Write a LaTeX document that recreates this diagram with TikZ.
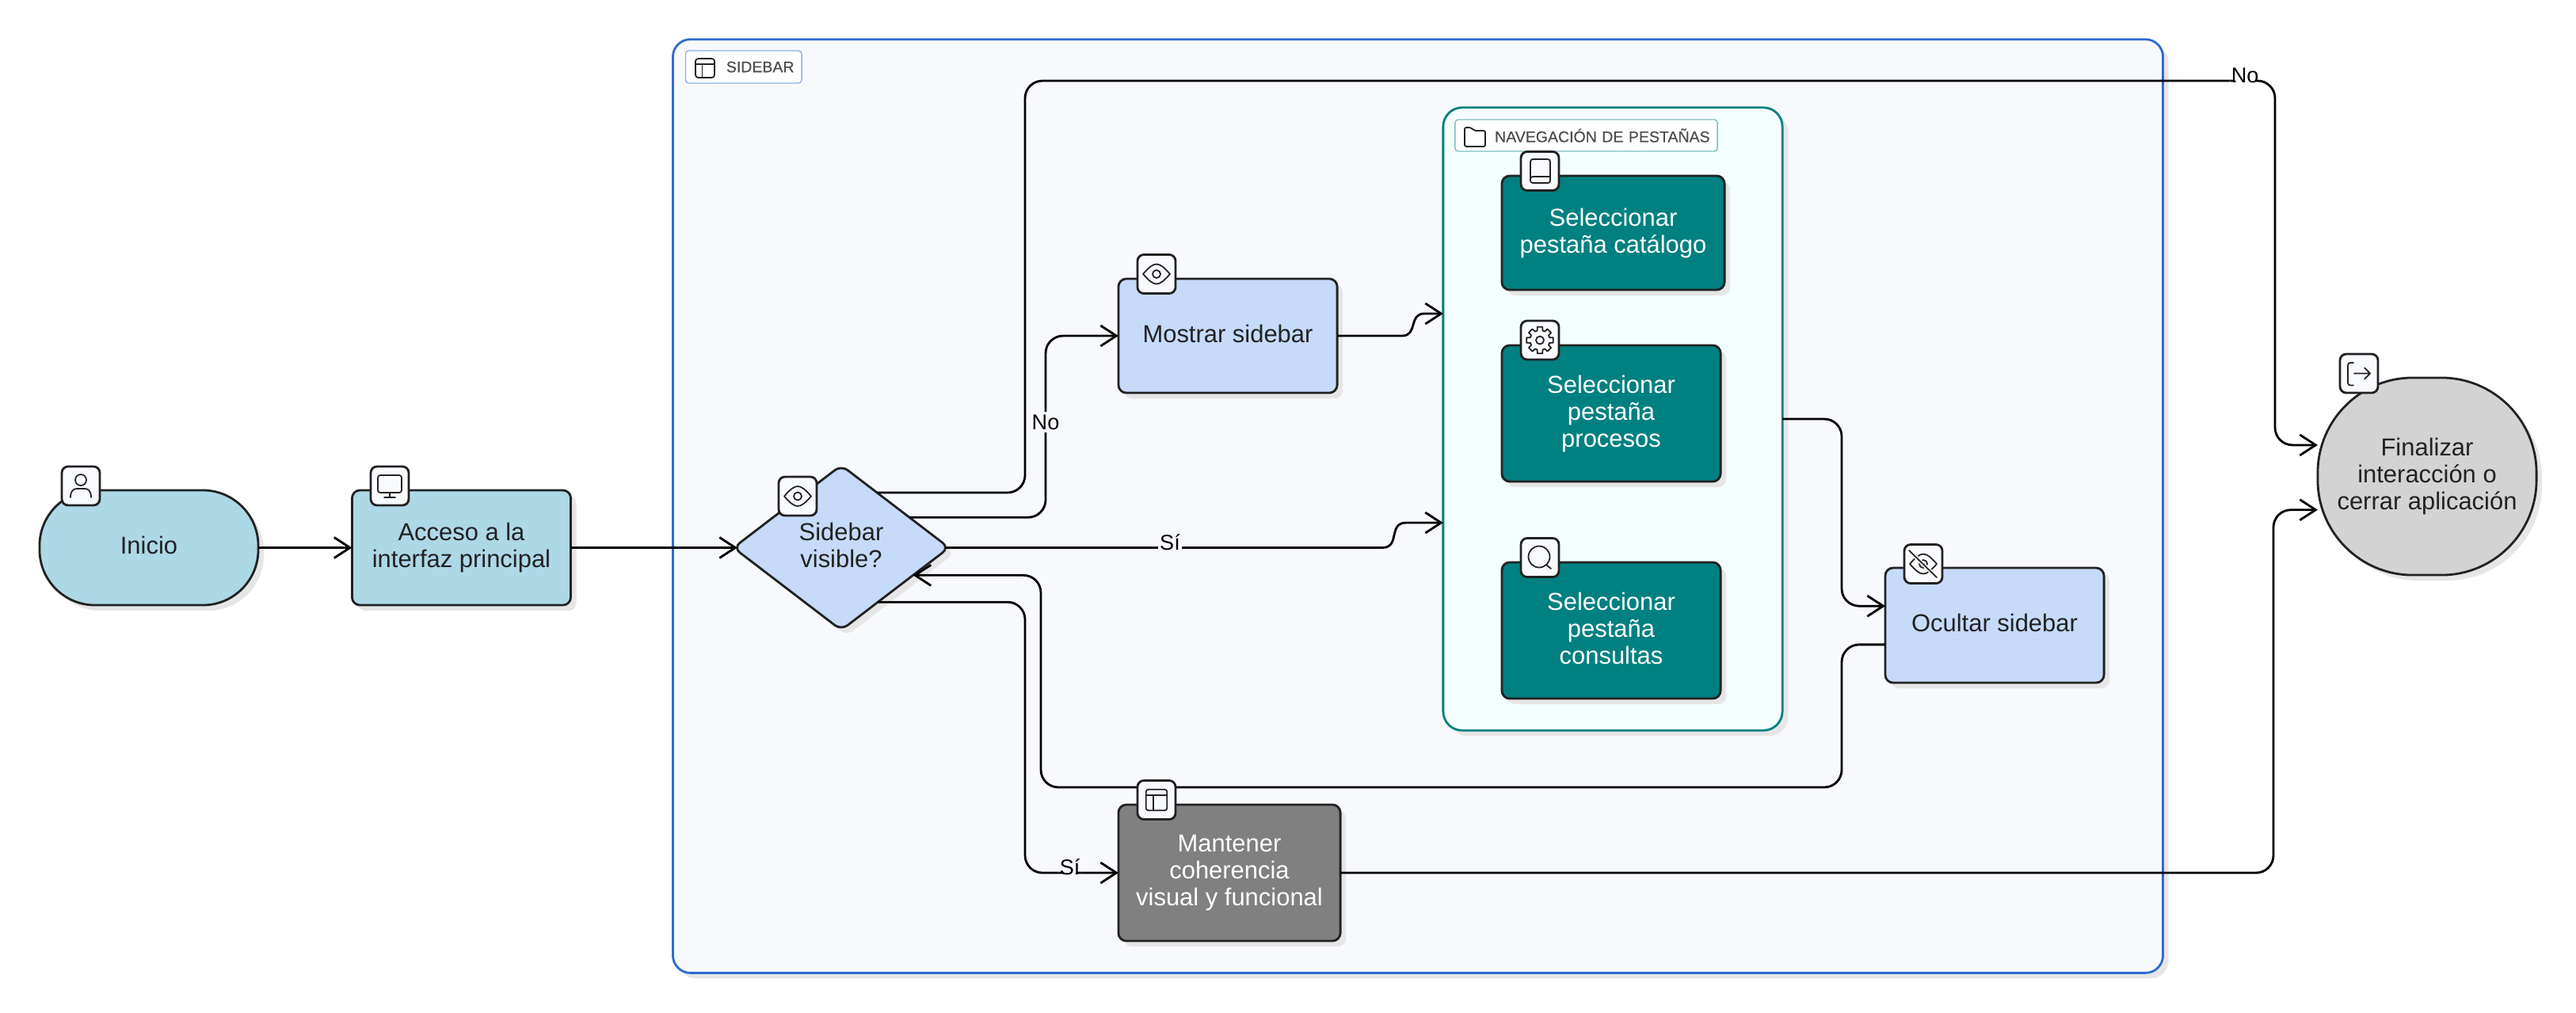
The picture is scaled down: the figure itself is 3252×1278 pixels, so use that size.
\documentclass[tikz,border=0pt]{standalone}
\usepackage{fontspec}
\setmainfont{Liberation Sans}
\newfontfamily\tagfont[FakeBold=0.25]{Liberation Sans}
\usetikzlibrary{arrows.meta,shapes.geometric,shadows}

\definecolor{inkdark}{HTML}{222222}
\definecolor{softshadow}{HTML}{E6E6E6}
\definecolor{panelblue}{HTML}{F8F9FD}
\definecolor{panelline}{HTML}{2F6BD0}
\definecolor{paneltag}{HTML}{8DB0E8}
\definecolor{tabsfill}{HTML}{F5FEFF}
\definecolor{tabstag}{HTML}{7FBFBF}
\definecolor{tealfill}{HTML}{008080}
\definecolor{stepblue}{HTML}{C6DAFA}
\definecolor{entryblue}{HTML}{ADD8E6}
\definecolor{iconfill}{HTML}{F8FAFD}
\definecolor{closegray}{HTML}{D3D3D3}

\newcommand{\lowpad}{\rule[-0.06cm]{0pt}{0.06cm}}

\tikzset{
  softdrop/.style={drop shadow={shadow xshift=0.07cm,shadow yshift=-0.07cm,fill=softshadow,opacity=1}},
  shapeline/.style={draw=inkdark,line width=0.8pt,outer sep=0pt,inner sep=0pt,align=center,
    font=\fontsize{8.8}{9.67}\selectfont},
  entrystep/.style={shapeline,softdrop,rectangle,rounded corners=0.1cm,fill=entryblue,text=inkdark,
    minimum width=2.76cm,minimum height=1.45cm},
  bluestep/.style={shapeline,softdrop,rectangle,rounded corners=0.1cm,fill=stepblue,text=inkdark,
    minimum width=2.76cm},
  tabstep/.style={shapeline,softdrop,rectangle,rounded corners=0.1cm,fill=tealfill,text=white,
    minimum width=2.76cm},
  groupbox/.style={rectangle,softdrop,fill=#1,outer sep=0pt,line width=0.8pt},
  grouptag/.style={rectangle,fill=white,rounded corners=0.04cm,line width=0.4pt,outer sep=0pt,
    inner xsep=0.095cm,inner ysep=0pt,align=right,text=black!70,font=\tagfont\fontsize{5.55}{7}\selectfont},
  iconbox/.style={rectangle,draw=inkdark,fill=iconfill,line width=0.8pt,rounded corners=0.08cm,
    minimum width=0.48cm,minimum height=0.49cm,inner sep=0pt,outer sep=0pt},
  iconline/.style={draw=inkdark,line width=0.5pt,line cap=round,line join=round},
  flowlink/.style={draw=black,line width=0.8pt,rounded corners=0.22cm,
    -{Straight Barb[length=0.2cm,width=0.26cm,line width=0.8pt]}},
  flowlabel/.style={font=\fontsize{7.7}{8}\selectfont,text=black,inner xsep=0.5pt,inner ysep=1pt,yshift=0.07cm},
  pics/usericon/.style={code={
    \draw[iconline] (0,-7.5) circle (7);
    \draw[iconline] (-13,14.5) .. controls (-13,6) and (-9,3.5) .. (-5,3.5) -- (5,3.5) .. controls (9,3.5) and (13,6) .. (13,14.5);
  }},
  pics/screenicon/.style={code={
    \draw[iconline,rounded corners=0.03cm] (-15,-13.5) rectangle (15,8.5);
    \draw[iconline] (0,8.5) -- (0,14.5) (-7,14.5) -- (7,14.5);
  }},
  pics/eyeicon/.style={code={
    \draw[iconline] (-17,0) .. controls (-10,-8) and (-5,-12.5) .. (0,-12.5) .. controls (5,-12.5) and (10,-8) .. (17,0)
      .. controls (10,8) and (5,12.5) .. (0,12.5) .. controls (-5,12.5) and (-10,8) .. (-17,0) -- cycle;
    \draw[iconline] (0,0) circle (5);
  }},
  pics/layouticon/.style={code={
    \draw[iconline,rounded corners=0.03cm] (-14,-14) rectangle (14,14);
    \draw[iconline] (-14,-6) -- (14,-6) (-4,-6) -- (-4,14);
  }},
  pics/bookicon/.style={code={
    \draw[iconline,rounded corners=0.03cm] (13,-15) -- (-12,-15) -- (-12,15) -- (13,15) -- cycle;
    \draw[iconline,rounded corners=0.03cm] (-12,11) -- (-12,7) -- (13,7);
  }},
  pics/gearicon/.style={code={
    \foreach \tooth in {0,45,...,315} {
      \draw[iconline] (\tooth-11:17) -- (\tooth+11:17) -- (\tooth+16:12.5) -- (\tooth+29:12.5) -- (\tooth+34:17);
    }
    \draw[iconline] (0,0) circle (5);
  }},
  pics/searchicon/.style={code={
    \draw[iconline] (-1,-1) circle (13.5);
    \draw[iconline] (8,9) -- (14,14);
  }},
  pics/hiddenicon/.style={code={
    \draw[iconline] (-17,0) .. controls (-10,-8) and (-5,-12.5) .. (0,-12.5) .. controls (5,-12.5) and (10,-8) .. (17,0)
      .. controls (10,8) and (5,12.5) .. (0,12.5) .. controls (-5,12.5) and (-10,8) .. (-17,0) -- cycle;
    \draw[iconline] (0,0) circle (5);
    \draw[iconfill,line width=1.4pt] (-18,-17) -- (17,17);
    \draw[iconline] (-18,-17) -- (17,17);
  }},
  pics/exiticon/.style={code={
    \draw[iconline,rounded corners=0.03cm] (-7,-13.5) -- (-14,-13.5) -- (-14,15) -- (-7,15);
    \draw[iconline] (-6,0) -- (14,0) (7,-7) -- (14,0) -- (7,7);
  }},
  pics/foldericon/.style={code={
    \draw[iconline,rounded corners=0.02cm] (-13,12) -- (-13,-12) -- (-5,-12) -- (-1,-8) -- (13,-8) -- (13,12) -- cycle;
  }},
}

\begin{document}
\begin{tikzpicture}[x=0.01cm,y=-0.01cm]
   \useasboundingbox (0,0) rectangle (3252,1278);

   \node[groupbox=panelblue,draw=panelline,rounded corners=0.22cm,minimum width=18.8cm,minimum height=11.78cm] (sidebar) at (1790,639) {};
   \node[grouptag,draw=paneltag,text width=1.275cm,minimum height=0.41cm] (sidebarTag) at (938.75,84.5) {SIDEBAR};
   \node[groupbox=tabsfill,draw=tealfill,rounded corners=0.24cm,minimum width=4.28cm,minimum height=7.86cm] (tabs) at (2036,529) {};
   \node[grouptag,draw=tabstag,text width=3.12cm,minimum height=0.4cm] (tabsTag) at (2002.5,171) {NAVEGACIÓN DE PESTAÑAS};

   \node[entrystep,rounded corners=0.7cm] (start) at (188,691.5) {Inicio\lowpad};
   \node[entrystep] (access) at (582.5,691.5) {Acceso a la\\interfaz principal};

   \node[shapeline,softdrop,diamond,rounded corners=0.1cm,fill=stepblue,text=inkdark,minimum width=2.72cm,minimum height=2.08cm] (decision) at (1062,691.5) {Sidebar\\visible?\lowpad};

   \node[bluestep,minimum height=1.44cm] (show) at (1550,424) {Mostrar sidebar\lowpad};
   \node[bluestep,minimum height=1.45cm] (hide) at (2518,789.5) {Ocultar sidebar\lowpad};
   \node[shapeline,softdrop,rectangle,rounded corners=0.1cm,fill=gray,text=white,minimum width=2.8cm,minimum height=1.72cm] (keep) at (1552,1102) {Mantener\\coherencia\\visual y funcional};

   \node[tabstep,minimum width=2.81cm,minimum height=1.44cm] (catalog) at (2036.5,294) {Seleccionar\\pestaña catálogo};
   \node[tabstep,minimum height=1.72cm] (process) at (2034,522) {Seleccionar\\pestaña\\procesos};
   \node[tabstep,minimum height=1.72cm] (query) at (2034,796) {Seleccionar\\pestaña\\consultas\lowpad};

   \node[shapeline,softdrop,rectangle,rounded corners=1.2cm,fill=closegray,text=inkdark,minimum width=2.76cm,minimum height=2.49cm] (finish) at (3064,601.5) {Finalizar\\interacción o\\cerrar aplicación};

   \draw[flowlink] (start) -- (access);
   \draw[flowlink,shorten >=-0.05cm] (access) -- (decision.west);
   \draw[flowlink] (decision.57.1) -| (1294,102) -- node[flowlabel,pos=0.976,fill=white] {No} (2872,102) |- (finish.164);
   \draw[flowlink] (decision.24) -| (1320,533) node[flowlabel,fill=panelblue,yshift=-0.07cm] {No} |- (show.west);
   \draw[flowlink,sharp corners,shorten <=-0.05cm] (decision.east) -- node[flowlabel,pos=0.51,fill=panelblue] {Sí} (1745,691.5) .. controls (1768,691.5) and (1752,660) .. (1775,660) -- (tabs.west |- 0,660);
   \draw[flowlink] (decision.304.1) -| (1294,1102) -- node[flowlabel,pos=0.48,fill=panelblue] {Sí} (keep.west);
   \draw[flowlink,sharp corners] (show.east) -- (1770,424) .. controls (1790,424) and (1778,396) .. (1798,396) -- (tabs.west |- 0,396);
   \draw[flowlink] (tabs.east) -- (2325,529) |- (hide.170);
   \draw[flowlink] (hide.190) -| (2325,994) -| (1314,800) |- (decision.339.2);
   \draw[flowlink] (keep.east) -| (2870,800) |- (finish.197);

   \node[iconbox] (startIcon) at (102,613.5) {};
   \node[iconbox] (accessIcon) at (492,613.5) {};
   \node[iconbox] (decisionIcon) at (1007,626.5) {};
   \node[iconbox] (showIcon) at (1460,346) {};
   \node[iconbox] (hideIcon) at (2428,712) {};
   \node[iconbox] (keepIcon) at (1460,1010) {};
   \node[iconbox] (catalogIcon) at (1944,216) {};
   \node[iconbox] (processIcon) at (1944,429.5) {};
   \node[iconbox] (queryIcon) at (1944,704) {};
   \node[iconbox] (finishIcon) at (2978,471.5) {};

   \pic at (startIcon) {usericon};
   \pic at (accessIcon) {screenicon};
   \pic at (decisionIcon) {eyeicon};
   \pic at (showIcon) {eyeicon};
   \pic at (hideIcon) {hiddenicon};
   \pic[scale=0.95] at (keepIcon) {layouticon};
   \pic at (catalogIcon) {bookicon};
   \pic at (processIcon) {gearicon};
   \pic at (queryIcon) {searchicon};
   \pic at (finishIcon) {exiticon};
   \pic[scale=0.85] at (890,86) {layouticon};
   \pic at (1862,173) {foldericon};
\end{tikzpicture}
\end{document}
